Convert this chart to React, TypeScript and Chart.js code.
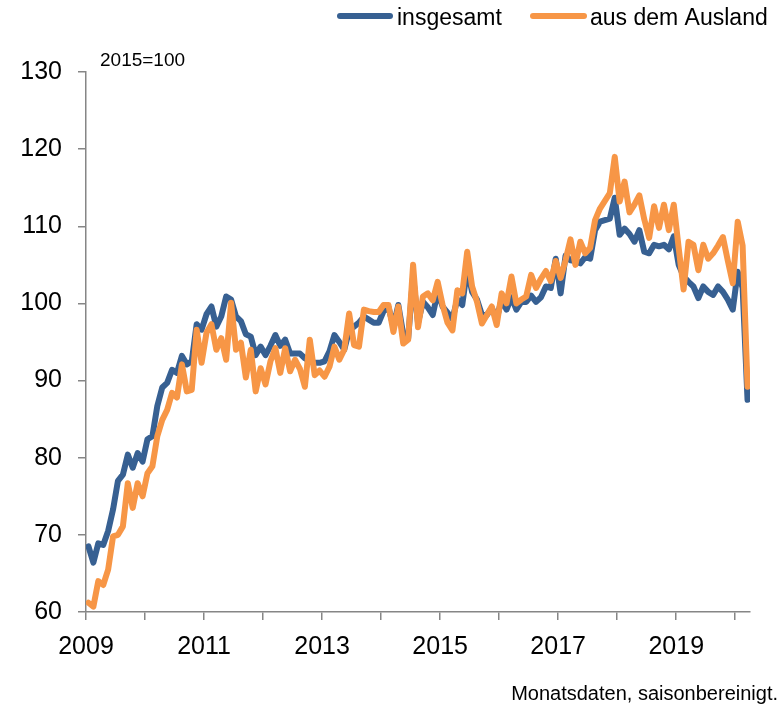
import React, { useEffect, useRef } from "react";
import { Chart, registerables } from "chart.js";

Chart.register(...registerables);

const START_YEAR = 2009;
const seriesNames = ["insgesamt", "aus dem Ausland"];
const xLabelYears = [2009, 2011, 2013, 2015, 2017, 2019];
const baseNote = "2015=100";
const sourceNote = "Monatsdaten, saisonbereinigt.";

// monthly values, Jan 2009 .. Mar 2020 (plotted mid-month)
const insgesamt = [
  68.5, 66.4, 68.9, 68.7, 70.5, 73.3, 77.0, 77.8, 80.4, 78.7, 80.6, 79.5,
  82.4, 82.8, 86.7, 89.1, 89.7, 91.4, 91.0, 93.2, 92.1, 92.5, 97.3, 96.6,
  98.6, 99.6, 97.0, 98.3, 100.9, 100.5, 98.3, 97.7, 96.0, 95.7, 93.3, 94.4,
  93.3, 94.5, 95.9, 94.5, 95.3, 93.5, 93.5, 93.5, 92.9, 92.5, 92.3, 92.3,
  92.5, 93.8, 95.9, 95.0, 94.0, 96.5, 97.0, 97.5, 98.3, 97.9, 97.5, 97.5,
  99.0, 99.5, 97.0, 99.8, 96.0, 95.5, 103.5, 97.5, 100.2, 99.5, 98.5, 101.5,
  99.6, 98.8, 98.0, 100.5, 99.8, 104.5, 101.5, 100.5, 98.5, 98.5, 99.4, 98.0,
  100.5, 99.2, 100.8, 99.2, 100.2, 100.2, 101.0, 100.2, 100.8, 102.2, 102.0, 105.8,
  101.3, 106.2, 105.6, 105.5, 105.2, 106.0, 105.8, 109.5, 110.6, 110.8, 111.0, 113.7,
  108.9, 109.7, 109.0, 108.0, 109.5, 106.7, 106.5, 107.6, 107.4, 107.6, 107.0, 108.7,
  105.0, 103.5, 102.8, 102.2, 100.7, 102.2, 101.5, 101.1, 102.2, 101.5, 100.5, 99.2,
  104.1, 102.0, 87.5,
];

const ausland = [
  61.2, 60.7, 64.0, 63.5, 65.5, 69.8, 70.0, 71.1, 76.7, 73.5, 76.7, 75.0,
  78.0, 78.9, 82.8, 84.9, 86.2, 88.4, 87.8, 92.1, 88.6, 88.8, 96.6, 92.3,
  96.2, 97.3, 94.0, 95.5, 92.7, 100.1, 94.0, 94.9, 90.4, 94.0, 88.6, 91.6,
  89.5, 92.5, 94.2, 91.0, 94.2, 91.2, 92.7, 91.5, 89.2, 95.3, 90.7, 91.3,
  90.5, 91.8, 94.4, 92.7, 94.0, 98.7, 94.6, 94.4, 99.2, 99.0, 98.9, 98.9,
  99.8, 99.8, 96.3, 99.6, 94.8, 95.3, 105.0, 96.9, 100.9, 101.3, 100.4, 102.8,
  99.8, 97.5, 96.5, 101.7, 101.3, 106.7, 102.2, 100.2, 97.4, 98.5, 99.6, 97.2,
  101.3, 100.0, 103.5, 100.0, 100.5, 100.9, 103.7, 102.0, 103.2, 104.2, 102.9, 105.5,
  103.3, 105.6, 108.3, 105.0, 108.0, 106.5, 107.2, 110.8, 112.3, 113.3, 114.3, 119.0,
  113.2, 115.8, 111.8, 112.8, 114.0, 110.9, 108.5, 112.6, 109.8, 112.8, 109.5, 112.8,
  107.2, 101.8, 108.0, 107.6, 104.3, 107.6, 105.8, 106.5, 107.5, 108.6, 105.5, 102.6,
  110.6, 107.5, 89.2,
];

const BLUE = "#376092";
const ORANGE = "#F79646";
const AXIS = "#868686";
const FONT = "'Liberation Sans', Arial, sans-serif";

const toPoints = (vals: number[]) =>
  vals.map((v, i) => ({ x: START_YEAR + (i + 0.5) / 12, y: v }));

const textPlugin = {
  id: "extraTexts",
  afterDraw(chart: any) {
    const ctx = chart.ctx as CanvasRenderingContext2D;
    ctx.save();
    // legend
    const items = [
      { name: seriesNames[0], color: BLUE, x0: 340, x1: 390, tx: 397 },
      { name: seriesNames[1], color: ORANGE, x0: 533, x1: 584, tx: 590 },
    ];
    ctx.lineCap = "round";
    items.forEach((it) => {
      ctx.strokeStyle = it.color;
      ctx.lineWidth = 6;
      ctx.beginPath();
      ctx.moveTo(it.x0, 16);
      ctx.lineTo(it.x1, 16);
      ctx.stroke();
      ctx.fillStyle = "#000";
      ctx.font = `23px ${FONT}`;
      ctx.textAlign = "left";
      ctx.textBaseline = "alphabetic";
      ctx.fillText(it.name, it.tx, 25);
    });
    // base note
    ctx.font = `19px ${FONT}`;
    ctx.fillStyle = "#000";
    ctx.textAlign = "left";
    ctx.fillText(baseNote, 100, 66);
    // source note
    ctx.font = `20px ${FONT}`;
    ctx.textAlign = "right";
    ctx.fillText(sourceNote, 778, 700);
    ctx.restore();
  },
};

export default function App() {
  const ref = useRef<HTMLCanvasElement | null>(null);

  useEffect(() => {
    if (!ref.current) return;
    const chart = new Chart(ref.current, {
      type: "line",
      data: {
        datasets: [
          {
            label: seriesNames[0],
            data: toPoints(insgesamt),
            borderColor: BLUE,
            backgroundColor: BLUE,
            borderWidth: 6,
            pointRadius: 0,
            tension: 0,
            borderJoinStyle: "round",
            borderCapStyle: "round",
            order: 2,
          },
          {
            label: seriesNames[1],
            data: toPoints(ausland),
            borderColor: ORANGE,
            backgroundColor: ORANGE,
            borderWidth: 6,
            pointRadius: 0,
            tension: 0,
            borderJoinStyle: "round",
            borderCapStyle: "round",
            order: 1,
          },
        ],
      },
      options: {
        animation: false,
        responsive: false,
        maintainAspectRatio: false,
        layout: { padding: { top: 72, right: 33, bottom: 0, left: 0 } },
        plugins: {
          legend: { display: false },
          tooltip: { enabled: false },
        },
        scales: {
          x: {
            type: "linear",
            min: 2009,
            max: 2020.25,
            afterFit: (s: any) => {
              s.height = 94;
            },
            ticks: {
              stepSize: 1,
              includeBounds: false,
              autoSkip: false,
              maxRotation: 0,
              color: "#000",
              padding: 12,
              font: { family: FONT, size: 25 },
              callback: (v: any) =>
                xLabelYears.includes(Number(v)) ? String(v) : "",
            },
            grid: {
              drawOnChartArea: false,
              drawTicks: true,
              tickLength: 8,
              color: AXIS,
              lineWidth: 1.5,
            },
            border: { display: true, color: AXIS, width: 1.5 },
          },
          y: {
            min: 60,
            max: 130,
            afterFit: (s: any) => {
              s.width = 86;
            },
            ticks: {
              stepSize: 10,
              color: "#000",
              padding: 16,
              font: { family: FONT, size: 25 },
            },
            grid: {
              drawOnChartArea: false,
              drawTicks: true,
              tickLength: 8,
              color: AXIS,
              lineWidth: 1.5,
            },
            border: { display: true, color: AXIS, width: 1.5 },
          },
        },
      },
      plugins: [textPlugin],
    });
    return () => chart.destroy();
  }, []);

  return (
    <div
      style={{
        position: "fixed",
        left: 0,
        top: 0,
        width: 783,
        height: 706,
        background: "#fff",
      }}
    >
      <canvas
        ref={ref}
        width={783}
        height={706}
        style={{ display: "block", width: 783, height: 706 }}
      />
    </div>
  );
}
